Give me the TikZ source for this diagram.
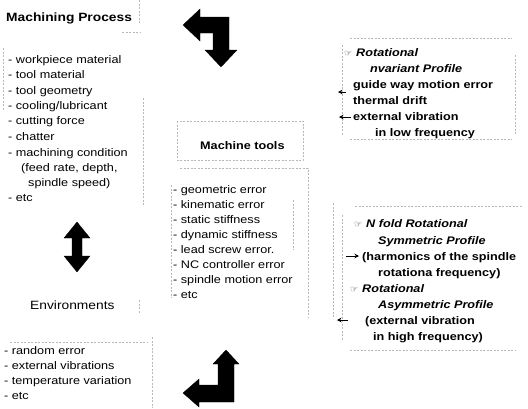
\documentclass[tikz,border=0pt]{standalone}
\usepackage{fontspec}
\usetikzlibrary{arrows.meta}
\setmainfont{Liberation Sans}[FakeStretch=1.15]
\newfontfamily\symf{DejaVu Sans}
\begin{document}
\begin{tikzpicture}[x=1pt,y=-1pt,
  lst/.style={anchor=base west, inner sep=0pt, font=\fontsize{11}{13}\selectfont},
  hdr/.style={anchor=base west, inner sep=0pt, font=\fontsize{12}{14}\selectfont\bfseries},
  hdrn/.style={anchor=base west, inner sep=0pt, font=\fontsize{12}{14}\selectfont},
  bx/.style={anchor=base west, inner sep=0pt, font=\fontsize{11}{13}\selectfont\bfseries},
  bxi/.style={anchor=base west, inner sep=0pt, font=\fontsize{11}{13}\selectfont\bfseries\itshape},
  hand/.style={anchor=base west, inner sep=0pt, font=\symf\fontsize{9}{10}\selectfont, text=black!80},
  faint/.style={draw=black!28, line width=0.4pt, dash pattern=on 2pt off 1.5pt},
  blk/.style={fill=black, draw=black, line width=0.3pt, line join=miter},
  tip/.style={draw=black, line width=0.9pt, -{Stealth[length=4.5pt,width=4.5pt]}}]
\useasboundingbox (0,0) rectangle (528,408);
\fill[white] (0,0) rectangle (528,408);

% ---------- Machining Process ----------
\node[hdr] (mp) at (6,21) {Machining Process};
\draw[faint] (139,0) -- (139,24);
\draw[faint] (122,32) -- (141,32);
\draw[faint] (3,48) -- (3,110);
\draw[faint] (143,98) -- (143,205);
\node[lst] (m1) at (8,63) {- workpiece material};
\node[lst] (m2) at (8,78.5) {- tool material};
\node[lst] (m3) at (8,94) {- tool geometry};
\node[lst] (m4) at (8,109) {- cooling/lubricant};
\node[lst] (m5) at (8,124) {- cutting force};
\node[lst] (m6) at (8,140) {- chatter};
\node[lst] (m7) at (8,156) {- machining condition};
\node[lst] (m8) at (21,171) {(feed rate, depth,};
\node[lst] (m9) at (28,186) {spindle speed)};
\node[lst] (m10) at (8,201) {- etc};

% ---------- double arrow ----------
\path[blk] (77,222) -- (90,238) -- (82,238) -- (82,256) -- (90,256) -- (77,272)
  -- (64,256) -- (72,256) -- (72,238) -- (64,238) -- cycle;

% ---------- Environments ----------
\node[hdrn] (env) at (30,309) {Environments};
\draw[faint] (139,300) -- (139,314);
\draw[faint] (10,342) -- (147,342);
\draw[faint] (152,337) -- (152,408);
\node[lst] (e1) at (4,354) {- random error};
\node[lst] (e2) at (4,369) {- external vibrations};
\node[lst] (e3) at (4,384) {- temperature variation};
\node[lst] (e4) at (4,399) {- etc};

% ---------- Machine tools ----------
\draw[faint] (177,121) rectangle (303,160);
\node[anchor=base west, inner sep=0pt, font=\fontsize{11}{13}\selectfont\bfseries] (mt) at (200,149) {Machine tools};
\draw[faint] (180,168) -- (308,168) -- (308,318);
\draw[faint] (171,185) -- (171,298);
\draw[faint] (293,200) -- (293,250);
\node[lst] (t1) at (173,193) {- geometric error};
\node[lst] (t2) at (173,208) {- kinematic error};
\node[lst] (t3) at (173,223) {- static stiffness};
\node[lst] (t4) at (173,238) {- dynamic stiffness};
\node[lst] (t5) at (173,253) {- lead screw error.};
\node[lst] (t6) at (173,268) {- NC controller error};
\node[lst] (t7) at (173,283) {- spindle motion error};
\node[lst] (t8) at (173,298) {- etc};
\draw[faint] (333,203) -- (333,318);

% ---------- top L arrow ----------
\path[blk] (183,25) -- (200,9) -- (200,17) -- (229,17) -- (229,50) -- (237,50)
  -- (221,67) -- (205,50) -- (213,50) -- (213,33) -- (200,33) -- (200,41) -- cycle;

% ---------- bottom L arrow ----------
\path[blk] (226,350) -- (239,364) -- (234,364) -- (234,402) -- (199,402) -- (199,407)
  -- (183,393) -- (199,379) -- (199,385) -- (218,385) -- (218,364) -- (213,364) -- cycle;

% ---------- Right box 1 ----------
\draw[faint] (350,38) -- (512,38);
\draw[faint] (515,55) -- (515,135);
\draw[faint] (350,139) -- (512,139);
\draw[faint] (342,45) -- (342,135);
\node[hand] (h1) at (344,56) {☞};
\node[bxi] (r1) at (356,56) {Rotational};
\node[bxi] (r2) at (370,72) {nvariant Profile};
\node[bx] (r3) at (353,88) {guide way motion error};
\node[bx] (r4) at (353,104) {thermal drift};
\node[bx] (r5) at (353,120) {external vibration};
\node[bx] (r6) at (375,136) {in low frequency};
\coordinate (a1) at (346,92);
\coordinate (a1e) at (338,92);
\draw[tip] (a1) -- (a1e);
\coordinate (a2) at (351,117);
\coordinate (a2e) at (339,117);
\draw[tip] (a2) -- (a2e);

% ---------- Right box 2 ----------
\draw[faint] (355,206) -- (522,206);
\draw[faint] (342,215) -- (342,340);
\draw[faint] (350,350) -- (515,350);
\node[hand] (h2) at (354,227) {☞};
\node[bxi] (n1) at (366,227) {N fold Rotational};
\node[bxi] (n2) at (378,244) {Symmetric Profile};
\node[bx] (n3) at (362,260) {(harmonics of the spindle};
\node[bx] (n4) at (378,276) {rotationa frequency)};
\node[hand] (h3) at (350,292) {☞};
\node[bxi] (n5) at (362,292) {Rotational};
\node[bxi] (n6) at (378,308) {Asymmetric Profile};
\node[bx] (n7) at (365,324) {(external vibration};
\node[bx] (n8) at (373,340) {in high frequency)};
\coordinate (b1) at (346,256);
\coordinate (b1e) at (359,256);
\draw[tip] (b1) -- (b1e);
\coordinate (b2) at (348,320);
\coordinate (b2e) at (337,320);
\draw[tip] (b2) -- (b2e);
\end{tikzpicture}
\end{document}
